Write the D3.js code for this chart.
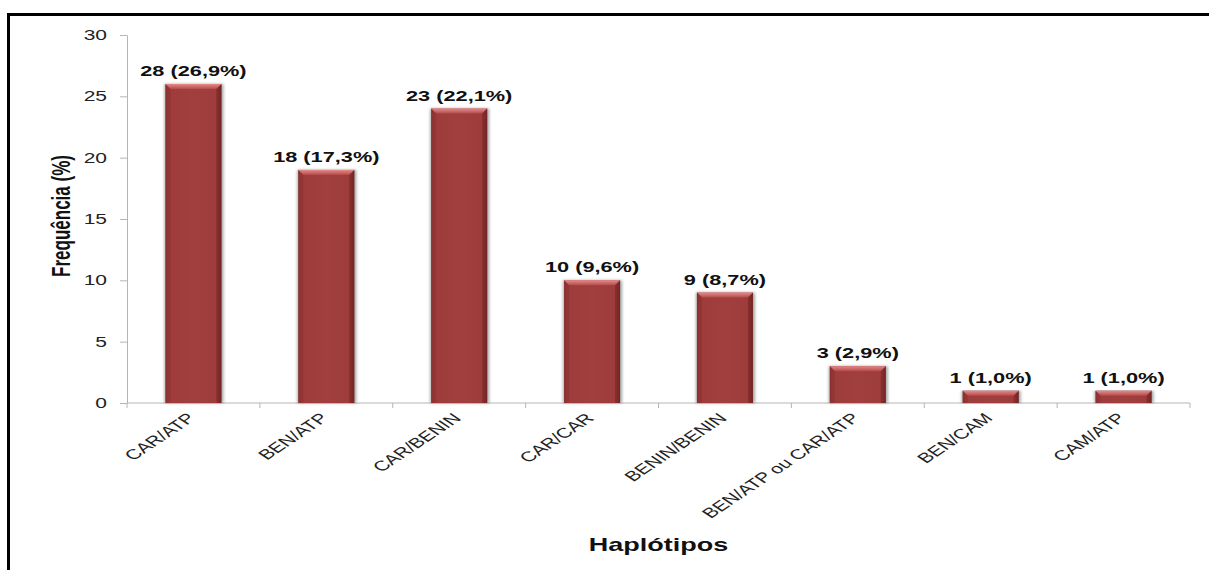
<!DOCTYPE html>
<html><head><meta charset="utf-8">
<script src="https://cdn.jsdelivr.net/npm/d3@7"></script>
<style>
html,body{margin:0;padding:0;background:#fff;}
svg{display:block;font-family:"Liberation Sans",Arial,sans-serif;}
</style></head>
<body>
<svg id="c" width="1209" height="570"></svg>
<script>
const categories = ["CAR/ATP","BEN/ATP","CAR/BENIN","CAR/CAR","BENIN/BENIN","BEN/ATP ou CAR/ATP","BEN/CAM","CAM/ATP"];
const values = [26,19,24,10,9,3,1,1];
const valueLabels = ["28 (26,9%)","18 (17,3%)","23 (22,1%)","10 (9,6%)","9 (8,7%)","3 (2,9%)","1 (1,0%)","1 (1,0%)"];
const yTicks = [0,5,10,15,20,25,30];
const yTitle = "Frequência (%)";
const xTitle = "Haplótipos";

const SX = 1.5; // horizontal stretch of the original picture
const svg = d3.select("#c");
const defs = svg.append("defs");

const plot = {left:127, right:1190, top:35, bottom:403};
const p = 1 - 56/((plot.right-plot.left)/categories.length);
const x = d3.scaleBand().domain(categories).range([plot.left, plot.right]).paddingInner(p).paddingOuter(p/2);
const y = d3.scaleLinear().domain([0,30]).range([plot.bottom, plot.top]);

// frame
svg.append("line").attr("x1",7).attr("x2",1209).attr("y1",14.5).attr("y2",14.5).attr("stroke","#000").attr("stroke-width",3);
svg.append("line").attr("x1",8.5).attr("x2",8.5).attr("y1",13).attr("y2",570).attr("stroke","#000").attr("stroke-width",3);

// gradients
const gBody = defs.append("linearGradient").attr("id","body").attr("x1","0").attr("x2","1").attr("y1","0").attr("y2","0");
[["0%","#862f2f"],["6%","#9e3b3b"],["50%","#a13e3e"],["94%","#9e3b3b"],["100%","#7a2828"]].forEach(s=>gBody.append("stop").attr("offset",s[0]).attr("stop-color",s[1]));
const gTop = defs.append("linearGradient").attr("id","topb").attr("x1","0").attr("x2","0").attr("y1","0").attr("y2","1");
[["0%","#e58a8a"],["100%","#b44a4a"]].forEach(s=>gTop.append("stop").attr("offset",s[0]).attr("stop-color",s[1]));
defs.append("filter").attr("id","sh").attr("x","-20%").attr("y","-5%").attr("width","140%").attr("height","110%")
  .append("feGaussianBlur").attr("stdDeviation",1.6);

// axes
const yAxis = d3.axisLeft(y).tickValues(yTicks).tickSize(7).tickSizeOuter(0).tickFormat("");
const ya = svg.append("g").attr("transform",`translate(${plot.left},0)`).call(yAxis);
ya.selectAll("line,path").attr("stroke","#b5b5b5");

const gx = svg.append("g");
gx.append("line").attr("x1",plot.left).attr("x2",plot.right).attr("y1",plot.bottom).attr("y2",plot.bottom).attr("stroke","#b5b5b5");
const bounds = d3.range(categories.length+1).map(i=>plot.left + i*x.step());
gx.selectAll("line.t").data(bounds).join("line").attr("class","t")
  .attr("x1",d=>d).attr("x2",d=>d).attr("y1",plot.bottom).attr("y2",plot.bottom+5).attr("stroke","#b5b5b5");

// y tick labels
svg.append("g").selectAll("text").data(yTicks).join("text")
  .attr("transform",d=>`translate(107,${y(d)}) scale(${SX},1)`)
  .attr("dy","0.35em").attr("text-anchor","end").attr("font-size",14).attr("fill","#222")
  .text(d=>d);

// bars
const bars = svg.append("g").selectAll("g").data(categories.map((c,i)=>({c,v:values[i],l:valueLabels[i]}))).join("g");
bars.append("rect").attr("x",d=>x(d.c)-1).attr("y",d=>y(d.v)).attr("width",x.bandwidth()+3).attr("height",d=>y(0)-y(d.v))
  .attr("fill","#000").attr("opacity",0.35).attr("filter","url(#sh)");
bars.append("rect").attr("x",d=>x(d.c)).attr("y",d=>y(d.v)).attr("width",x.bandwidth()).attr("height",d=>y(0)-y(d.v))
  .attr("fill","url(#body)");
const bev = 5;
bars.append("polygon").attr("points",d=>{
  const x0=x(d.c), x1=x0+x.bandwidth(), t=y(d.v);
  return [[x0,t],[x1,t],[x1-bev,t+bev],[x0+bev,t+bev]].join(" ");
}).attr("fill","url(#topb)");
bars.append("polygon").attr("points",d=>{
  const x0=x(d.c), t=y(d.v), b=y(0);
  return [[x0,t],[x0+bev,t+bev],[x0+bev,b],[x0,b]].join(" ");
}).attr("fill","#8a3131").attr("opacity",0.55);
bars.append("polygon").attr("points",d=>{
  const x1=x(d.c)+x.bandwidth(), t=y(d.v), b=y(0);
  return [[x1,t],[x1-bev,t+bev],[x1-bev,b],[x1,b]].join(" ");
}).attr("fill","#6a2020").attr("opacity",0.5);

// value labels
bars.append("text")
  .attr("transform",d=>`translate(${x(d.c)+x.bandwidth()/2},${y(d.v)-8}) scale(${SX},1)`)
  .attr("text-anchor","middle").attr("font-size",14.5).attr("font-weight","bold").attr("fill","#111")
  .text(d=>d.l);

// x tick labels
svg.append("g").selectAll("text").data(categories).join("text")
  .attr("transform",d=>`translate(${x(d)+x.bandwidth()/2+3},419) scale(${SX},1) rotate(-45)`)
  .attr("text-anchor","end").attr("font-size",14).attr("fill","#222")
  .text(d=>d);

// titles
svg.append("text").attr("transform",`translate(${(plot.left+plot.right)/2},551) scale(${SX},1)`)
  .attr("text-anchor","middle").attr("font-size",18).attr("font-weight","bold").attr("fill","#111").text(xTitle);
svg.append("text").attr("transform",`translate(61.5,216) scale(${SX},1) rotate(-90)`)
  .attr("text-anchor","middle").attr("dy","0.35em").attr("font-size",17).attr("font-weight","bold").attr("fill","#111").text(yTitle);
</script>
</body></html>
